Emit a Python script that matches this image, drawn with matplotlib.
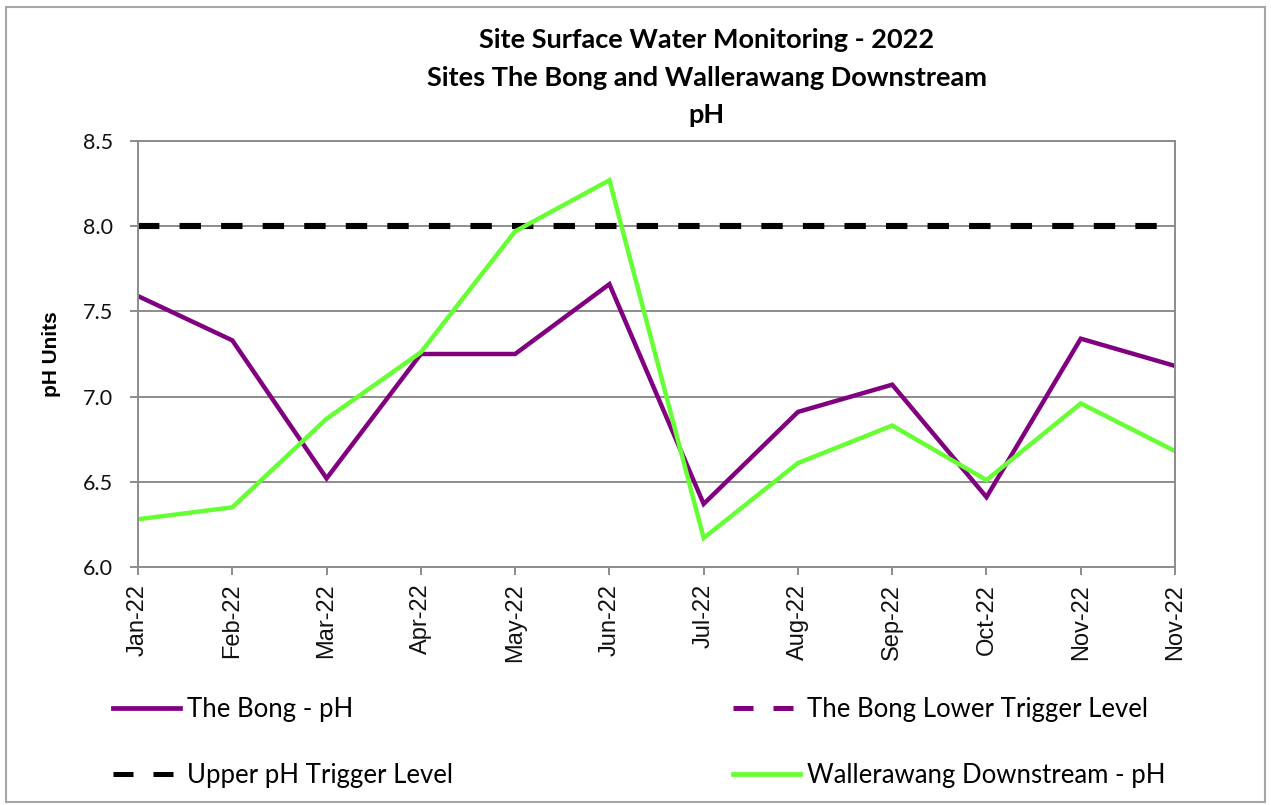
import numpy as np
import matplotlib
matplotlib.use("Agg")
import matplotlib.pyplot as plt
from matplotlib.patches import Rectangle
from matplotlib.lines import Line2D

plt.rcParams["font.family"] = ["Lato", "DejaVu Sans"]

months = ["Jan-22", "Feb-22", "Mar-22", "Apr-22", "May-22", "Jun-22",
          "Jul-22", "Aug-22", "Sep-22", "Oct-22", "Nov-22", "Nov-22"]
bong_ph = [7.59, 7.33, 6.52, 7.25, 7.25, 7.66, 6.37, 6.91, 7.07, 6.41, 7.34, 7.18]
waller_ph = [6.28, 6.35, 6.87, 7.26, 7.97, 8.27, 6.17, 6.61, 6.83, 6.51, 6.96, 6.68]
upper_trigger = [8.0] * 12
bong_lower_trigger = [np.nan] * 12  # no values recorded for this series
y_ticks = [6.0, 6.5, 7.0, 7.5, 8.0, 8.5]

PURPLE = "#800080"
GREEN = "#66FF33"
GRID = "#8c8c8c"
ARIAL = ["Liberation Sans", "DejaVu Sans"]

fig = plt.figure(figsize=(12.71, 8.05), dpi=100)
ax = fig.add_axes([0.1086, 0.2957, 0.8159, 0.5291])
x = np.arange(len(months))

ax.plot(x, bong_lower_trigger, color=PURPLE, lw=3.2, ls=(0, (4, 4)))
ax.plot(x, upper_trigger, color="black", lw=4.4, ls=(0, (3.5, 3.3)))
ax.plot(x, bong_ph, color=PURPLE, lw=3.2, solid_joinstyle="miter")
ax.plot(x, waller_ph, color=GREEN, lw=3.2, solid_joinstyle="miter")

ax.set_xlim(0, len(months) - 1)
ax.set_ylim(6.0, 8.5)
ax.set_yticks(y_ticks)
ax.set_yticklabels([f"{v:.1f}" for v in y_ticks], fontsize=15.5)
ax.set_xticks(x)
ax.set_xticklabels(months, rotation=90, fontsize=17, va="top", family=ARIAL)
ax.yaxis.grid(True, color=GRID, lw=1.4)
ax.set_axisbelow(True)
for s in ax.spines.values():
    s.set_color(GRID)
    s.set_linewidth(1.4)
ax.tick_params(axis="both", direction="out", color=GRID, width=1.4, length=6,
               labelcolor="#111111")
ax.tick_params(axis="x", pad=6)
ax.tick_params(axis="y", pad=12)
ax.set_ylabel("pH Units", fontsize=15, fontweight="bold", family=ARIAL,
              labelpad=16)

title_lines = ["Site Surface Water Monitoring - 2022",
               "Sites The Bong and Wallerawang Downstream", "pH"]
for yy, line in zip([0.950, 0.903, 0.857], title_lines):
    fig.text(0.556, yy, line, ha="center", va="center", fontsize=19.5,
             fontweight="bold")

# outer chart border
fig.add_artist(Rectangle((0.005, 0.004), 0.99, 0.987, transform=fig.transFigure,
                         fill=False, edgecolor="#a6a6a6", lw=1.5))

handles = [
    Line2D([], [], color=PURPLE, lw=3.4),
    Line2D([], [], color="black", lw=3.6, ls=(0, (4, 4))),
    Line2D([], [], color=PURPLE, lw=3.6, ls=(0, (4, 4))),
    Line2D([], [], color=GREEN, lw=3.4),
]
labels = ["The Bong - pH", "Upper pH Trigger Level",
          "The Bong Lower Trigger Level", "Wallerawang Downstream - pH"]
fig.legend(handles, labels, ncol=2, loc="upper left", bbox_to_anchor=(0.081, 0.147),
           frameon=False, fontsize=18.5, handlelength=2.6, handletextpad=0.27,
           columnspacing=10.9, labelspacing=1.6, borderaxespad=0)

fig.savefig("out.png", dpi=100)
